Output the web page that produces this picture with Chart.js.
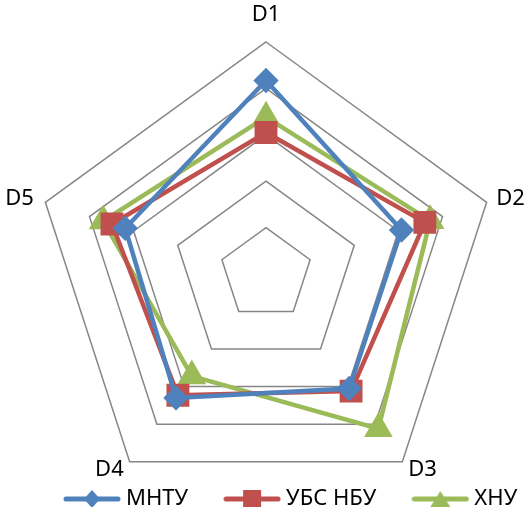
<!DOCTYPE html>
<html lang="uk">
<head>
    <meta charset="UTF-8">
    <title>Radar D1-D5</title>
    <script src="https://cdn.jsdelivr.net/npm/chart.js"></script>
    <style>
        html, body { margin: 0; padding: 0; background: #fff; }
        #wrap { width: 524px; height: 514px; }
    </style>
</head>
<body>
    <div id="wrap"><canvas id="myChart"></canvas></div>

    <script>
        // Дані
        const categories = ["D1", "D2", "D3", "D4", "D5"];
        const mntu = [4.17, 3.07, 3.05, 3.3, 3.19];
        const ubs = [3.05, 3.6, 3.12, 3.23, 3.49];
        const hnu = [3.38, 3.72, 4.12, 2.72, 3.69];

        const BLUE = "#4F81BD", RED = "#C0504D", GREEN = "#9BBB59";
        const FONT = "'Noto Sans', 'DejaVu Sans', sans-serif";
        const FONT_SIZE = 22;
        // відступ підписів осей від зовнішнього п'ятикутника
        const labelGap = [27, 10, 10, 10, 12];
        const LEGEND_X = 69, LEGEND_Y = 499, LEGEND_PAD = 41;

        // Значок легенди: лінія з маркером
        function legendIcon(color, shape) {
            const c = document.createElement("canvas");
            c.width = 58; c.height = 22;
            const g = c.getContext("2d");
            g.strokeStyle = color; g.fillStyle = color;
            g.lineWidth = 5; g.lineCap = "round";
            g.beginPath(); g.moveTo(3, 11); g.lineTo(55, 11); g.stroke();
            g.beginPath();
            if (shape === "diamond") {
                g.moveTo(29, 2); g.lineTo(37, 11); g.lineTo(29, 20); g.lineTo(21, 11);
            } else if (shape === "square") {
                g.rect(20, 2, 18, 18);
            } else {
                g.moveTo(29, 3); g.lineTo(39, 19); g.lineTo(19, 19);
            }
            g.closePath(); g.fill();
            return c;
        }
        const icons = [legendIcon(BLUE, "diamond"), legendIcon(RED, "square"), legendIcon(GREEN, "triangle")];

        // Підписи осей D1..D5 по позиціях радіальної шкали
        const axisLabels = {
            id: "axisLabels",
            afterDraw(chart) {
                const r = chart.scales.r;
                const c = chart.ctx;
                c.save();
                c.font = FONT_SIZE + "px " + FONT;
                c.fillStyle = "#000";
                c.textBaseline = "middle";
                chart.data.labels.forEach((lab, i) => {
                    const p = r.getPointPosition(i, r.drawingArea + labelGap[i]);
                    const dx = p.x - r.xCenter;
                    c.textAlign = Math.abs(dx) < 2 ? "center" : (dx > 0 ? "left" : "right");
                    c.fillText(lab, p.x, p.y);
                });
                c.restore();
            }
        };

        // Легенда займає мало місця знизу і малюється поверх нижнього краю
        const legendPlace = {
            id: "legendPlace",
            afterLayout(chart) {
                const lg = chart.legend;
                lg.left = LEGEND_X - LEGEND_PAD;
                lg.right = lg.left + 600;
                lg.top = LEGEND_Y - FONT_SIZE / 2 - LEGEND_PAD;
                lg.bottom = lg.top + 60;
            }
        };

        const ctx = document.getElementById("myChart").getContext("2d");
        const myChart = new Chart(ctx, {
            type: "radar",
            data: {
                labels: categories,
                datasets: [
                    { label: "МНТУ", data: mntu, borderColor: BLUE, backgroundColor: BLUE,
                      borderWidth: 4.5, fill: false, pointStyle: "rectRot", pointRadius: 9.5 },
                    { label: "УБС НБУ", data: ubs, borderColor: RED, backgroundColor: RED,
                      borderWidth: 4.5, fill: false, pointStyle: "rect", pointRadius: 13 },
                    { label: "ХНУ", data: hnu, borderColor: GREEN, backgroundColor: GREEN,
                      borderWidth: 4.5, fill: false, pointStyle: "triangle", pointRadius: 12 }
                ]
            },
            plugins: [axisLabels, legendPlace],
            options: {
                responsive: true,
                maintainAspectRatio: false,
                animation: false,
                layout: { padding: { top: 42, left: 8, right: 0, bottom: 0 } },
                elements: { line: { tension: 0 }, point: { borderWidth: 0 } },
                scales: {
                    r: {
                        min: 0, max: 5,
                        ticks: { display: false, stepSize: 1 },
                        grid: { color: "#868686", lineWidth: 1.5 },
                        angleLines: { display: false },
                        pointLabels: { display: false }
                    }
                },
                plugins: {
                    tooltip: { enabled: false },
                    legend: {
                        position: "bottom",
                        align: "start",
                        maxHeight: 7,
                        labels: {
                            usePointStyle: true,
                            pointStyleWidth: 46,
                            color: "#000",
                            font: { family: FONT, size: FONT_SIZE },
                            padding: LEGEND_PAD,
                            generateLabels(chart) {
                                const items = Chart.defaults.plugins.legend.labels.generateLabels(chart);
                                items.forEach((it, i) => { it.pointStyle = icons[i]; });
                                return items;
                            }
                        }
                    }
                }
            }
        });
    </script>
</body>
</html>
